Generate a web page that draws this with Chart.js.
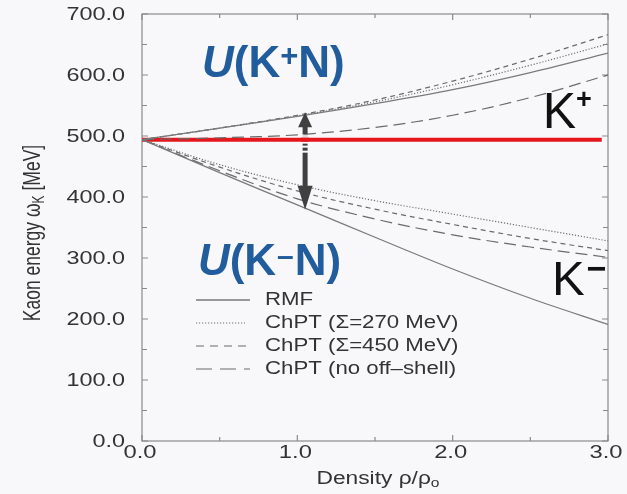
<!DOCTYPE html>
<html>
<head>
<meta charset="utf-8">
<script src="https://cdn.jsdelivr.net/npm/chart.js@4.4.1/dist/chart.umd.min.js"></script>
<style>
	html, body { margin: 0; padding: 0; background: #f8f8fa; }
	#chart { display: block; }
</style>
</head>
<body>
<canvas id="chart" width="627" height="494"></canvas>
<script>
// density rho/rho0
var density = [0, 0.5, 1, 1.5, 2, 2.5, 3];

// K+ branch
var kPlusRMF = [494, 513, 532, 553, 576, 604, 636];
var kPlusChpt270 = [494, 513, 533, 556, 584, 616, 651];
var kPlusChpt450 = [494, 513, 534, 559, 590, 626, 666];
var kPlusNoOffShell = [494, 497, 502, 514, 534, 563, 600];

// K- branch
var kMinusRMF = [494, 440, 387, 334, 282, 234, 191];
var kMinusChpt270 = [494, 453, 420, 394, 372, 350, 328];
var kMinusChpt450 = [494, 449, 410, 380, 355, 332, 312];
var kMinusNoOffShell = [494, 443, 397, 364, 338, 318, 301];

// free kaon mass line
var massLineX = [0, 2.96];
var massLineY = [494, 494];

// arrow between the branches (at rho, from / to energy)
var arrowX = 1.05;
var arrowTop = 539;
var arrowBottom = 379;

var legendNames = ['RMF', 'ChPT (Σ=270 MeV)', 'ChPT (Σ=450 MeV)', 'ChPT (no off\u2013shell)'];
var yTickValues = [0, 100, 200, 300, 400, 500, 600, 700];
var xTickValues = [0, 1, 2, 3];

var FONT = '"Liberation Sans", Arial, Helvetica, sans-serif';
var styles = [
	{ color: '#7a7a7a', dash: [], width: 1.3 },
	{ color: '#6e6e6e', dash: [1.2, 1.8], width: 1.2 },
	{ color: '#6a6a6a', dash: [5, 4], width: 1.2 },
	{ color: '#6a6a6a', dash: [12, 6], width: 1.2 }
];

function pts(ys){
	return density.map(function(x, i){ return { x: x, y: ys[i] }; });
}

function curve(ys, style, name){
	return {
		label: name,
		data: pts(ys),
		borderColor: style.color,
		borderWidth: style.width,
		borderDash: style.dash,
		pointRadius: 0,
		fill: false,
		tension: 0.35
	};
}

var datasets = [
	curve(kPlusRMF, styles[0], legendNames[0]),
	curve(kPlusChpt270, styles[1], legendNames[1]),
	curve(kPlusChpt450, styles[2], legendNames[2]),
	curve(kPlusNoOffShell, styles[3], legendNames[3]),
	curve(kMinusRMF, styles[0], legendNames[0]),
	curve(kMinusChpt270, styles[1], legendNames[1]),
	curve(kMinusChpt450, styles[2], legendNames[2]),
	curve(kMinusNoOffShell, styles[3], legendNames[3]),
	{
		label: 'mass',
		data: massLineX.map(function(x, i){ return { x: x, y: massLineY[i] }; }),
		borderColor: '#e5161c',
		borderWidth: 4,
		pointRadius: 0,
		fill: false
	}
];

// text stretched horizontally like the scanned figure
function stretchText(ctx, s, x, y, font, color, align, baseline, sx){
	ctx.save();
	ctx.translate(x, y);
	ctx.scale(sx, 1);
	ctx.font = font;
	ctx.fillStyle = color;
	ctx.textAlign = align;
	ctx.textBaseline = baseline;
	ctx.fillText(s, 0, 0);
	ctx.restore();
}

var framePlugin = {
	id: 'frame',
	beforeDatasetsDraw: function(chart){
		var ctx = chart.ctx, a = chart.chartArea;
		var xs = chart.scales.x, ys = chart.scales.y;
		ctx.save();
		ctx.strokeStyle = '#8a8a8a';
		ctx.lineWidth = 1.2;
		ctx.strokeRect(a.left, a.top, a.right - a.left, a.bottom - a.top);

		ctx.beginPath();
		for(var v = 0; v <= 3.0001; v += 0.5){
			var px = xs.getPixelForValue(v);
			var len = (Math.abs(v - Math.round(v)) < 1e-6) ? 6 : 4;
			ctx.moveTo(px, a.bottom); ctx.lineTo(px, a.bottom - len);
			ctx.moveTo(px, a.top); ctx.lineTo(px, a.top + len);
		}
		for(var w = 0; w <= 700; w += 50){
			var py = ys.getPixelForValue(w);
			var l2 = (w % 100 === 0) ? 6 : 5;
			ctx.moveTo(a.left, py); ctx.lineTo(a.left + l2, py);
			ctx.moveTo(a.right, py); ctx.lineTo(a.right - l2, py);
		}
		ctx.stroke();
		ctx.restore();

		// tick labels
		yTickValues.forEach(function(v){
			stretchText(ctx, v.toFixed(1), a.left - 17, ys.getPixelForValue(v) + 1, '18px ' + FONT, '#333', 'right', 'middle', 1.3);
		});
		xTickValues.forEach(function(v){
			stretchText(ctx, v.toFixed(1), xs.getPixelForValue(v) - 2, a.bottom + 3, '18px ' + FONT, '#333', 'center', 'top', 1.32);
		});

		// axis titles
		ctx.save();
		ctx.translate(33, 233);
		ctx.rotate(-Math.PI / 2);
		ctx.scale(1, 1.35);
		ctx.fillStyle = '#333';
		ctx.textBaseline = 'middle';
		var f1 = '17.5px ' + FONT, f2 = '12px ' + FONT;
		ctx.font = f1;
		var p1 = 'Kaon energy \u03c9', p3 = ' [MeV]';
		var w1 = ctx.measureText(p1).width, w3 = ctx.measureText(p3).width;
		ctx.font = f2;
		var w2 = ctx.measureText('K').width;
		var start = -(w1 + w2 + w3) / 2;
		ctx.font = f1; ctx.fillText(p1, start, 0);
		ctx.font = f2; ctx.fillText('K', start + w1, 5);
		ctx.font = f1; ctx.fillText(p3, start + w1 + w2, 0);
		ctx.restore();

		ctx.save();
		ctx.translate(378, 479);
		ctx.scale(1.3, 1);
		ctx.fillStyle = '#333';
		ctx.textBaseline = 'middle';
		ctx.font = f1;
		var q1 = 'Density \u03c1/\u03c1';
		var u1 = ctx.measureText(q1).width;
		ctx.font = f2;
		var u2 = ctx.measureText('o').width;
		var st = -(u1 + u2) / 2;
		ctx.font = f1; ctx.fillText(q1, st, 0);
		ctx.font = f2; ctx.fillText('o', st + u1, 5);
		ctx.restore();
	},
	afterDatasetsDraw: function(chart){
		var ctx = chart.ctx;
		var xs = chart.scales.x, ys = chart.scales.y;

		// double arrow
		var ax = xs.getPixelForValue(arrowX);
		var yt = ys.getPixelForValue(arrowTop);
		var yb = ys.getPixelForValue(arrowBottom);
		var ym = ys.getPixelForValue(massLineY[0]);
		ctx.save();
		ctx.fillStyle = '#404040';
		ctx.beginPath();
		ctx.moveTo(ax, yt); ctx.lineTo(ax + 7, yt + 15); ctx.lineTo(ax - 7, yt + 15); ctx.closePath();
		ctx.fill();
		ctx.beginPath();
		ctx.moveTo(ax, yb); ctx.lineTo(ax + 7.5, yb - 24); ctx.lineTo(ax - 7.5, yb - 24); ctx.closePath();
		ctx.fill();
		ctx.fillRect(ax - 2.5, yt + 14, 5, ym - 5 - (yt + 14));
		ctx.fillRect(ax - 2.5, ym + 4, 5, 2);
		ctx.fillRect(ax - 2.5, ym + 8, 5, 3);
		ctx.fillRect(ax - 2.5, ym + 13, 5, yb - 23 - (ym + 13));
		ctx.fillStyle = '#d9d9d9';
		ctx.fillRect(ax - 2.5, ym - 5, 5, 3);
		ctx.restore();

		// redraw mass line over the arrow
		ctx.save();
		ctx.strokeStyle = '#e5161c';
		ctx.lineWidth = 4;
		ctx.beginPath();
		ctx.moveTo(ax - 4, ym); ctx.lineTo(ax + 4, ym);
		ctx.stroke();
		ctx.restore();

		// legend
		for(var i = 0; i < 4; i++){
			var ly = 300 + i * 23;
			ctx.save();
			ctx.strokeStyle = styles[i].color;
			ctx.lineWidth = styles[i].width;
			ctx.setLineDash(i === 2 ? [8, 6] : i === 3 ? [16, 8] : styles[i].dash);
			ctx.beginPath();
			ctx.moveTo(196, ly); ctx.lineTo(i === 1 ? 245 : 250, ly);
			ctx.stroke();
			ctx.restore();
			stretchText(ctx, legendNames[i], 265, ly, '17.5px ' + FONT, '#333', 'left', 'middle', 1.27);
		}

		// big labels
		var blue = '#215d9c';
		function seq(parts, x, y){
			parts.forEach(function(p){
				ctx.font = p.font;
				ctx.fillStyle = p.color;
				ctx.textAlign = 'left';
				ctx.textBaseline = 'alphabetic';
				ctx.fillText(p.t, x, y - (p.dy || 0));
				x += ctx.measureText(p.t).width + (p.gap || 0);
			});
		}
		var bx = xs.getPixelForValue(0.386), by = ys.getPixelForValue(597);
		seq([
			{ t: 'U', font: 'italic bold 44px ' + FONT, color: blue, gap: 0 },
			{ t: '(K', font: 'bold 44px ' + FONT, color: blue, gap: 0 },
			{ t: '+', font: 'bold 31px ' + FONT, color: blue, dy: 11, gap: 0 },
			{ t: 'N)', font: 'bold 44px ' + FONT, color: blue }
		], bx, by);
		var cx = xs.getPixelForValue(0.36), cy = ys.getPixelForValue(272);
		seq([
			{ t: 'U', font: 'italic bold 44px ' + FONT, color: blue, gap: 0 },
			{ t: '(K', font: 'bold 44px ' + FONT, color: blue, gap: 1 },
			{ t: '\u2013', font: 'bold 30px ' + FONT, color: blue, dy: 9, gap: 1 },
			{ t: 'N)', font: 'bold 44px ' + FONT, color: blue }
		], cx, cy);
		seq([
			{ t: 'K', font: '50px ' + FONT, color: '#111', gap: 0 },
			{ t: '+', font: 'bold 27px ' + FONT, color: '#111', dy: 20 }
		], xs.getPixelForValue(2.58), ys.getPixelForValue(513));
		seq([
			{ t: 'K', font: '49px ' + FONT, color: '#111', gap: 2 },
			{ t: '\u2212', font: 'bold 34px ' + FONT, color: '#111', dy: 15 }
		], xs.getPixelForValue(2.64), ys.getPixelForValue(239));
	}
};

var chart = new Chart(document.getElementById('chart').getContext('2d'), {
	type: 'line',
	data: { datasets: datasets },
	options: {
		responsive: false,
		animation: false,
		devicePixelRatio: 1,
		layout: { padding: { top: 14, right: 19, left: 0, bottom: 0 } },
		plugins: { legend: { display: false }, tooltip: { enabled: false } },
		scales: {
			x: {
				type: 'linear', min: 0, max: 3,
				ticks: { display: false, stepSize: 1 },
				grid: { display: false }, border: { display: false },
				afterFit: function(scale){ scale.height = 53; }
			},
			y: {
				type: 'linear', min: 0, max: 700,
				ticks: { display: false, stepSize: 100 },
				grid: { display: false }, border: { display: false },
				afterFit: function(scale){ scale.width = 142; }
			}
		}
	},
	plugins: [framePlugin]
});
</script>
</body>
</html>
